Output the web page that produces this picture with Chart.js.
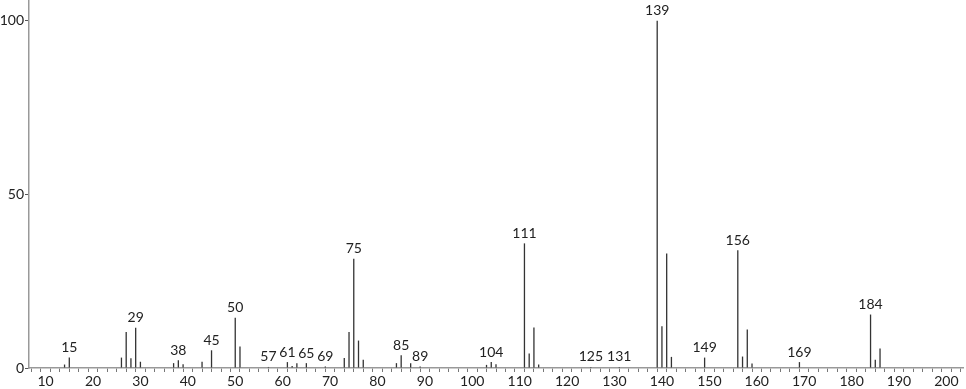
<!DOCTYPE html>
<html>
<head>
<meta charset="utf-8">
<script src="https://cdn.jsdelivr.net/npm/chart.js@4"></script>
<style>
  html, body { margin: 0; padding: 0; background: #fff; }
  #wrap { width: 966px; height: 389px; }
</style>
</head>
<body>
<div id="wrap"><canvas id="msChart"></canvas></div>
<script>
// mass spectrum - m/z and relative intensity
const mzValues = [14, 15, 26, 27, 28, 29, 30, 37, 38, 39, 43, 45, 50, 51, 57, 61, 62, 63, 65, 69,
    73, 74, 75, 76, 77, 84, 85, 87, 89, 103, 104, 105, 111, 112, 113, 114, 125, 131,
    139, 140, 141, 142, 149, 156, 157, 158, 159, 169, 184, 185, 186];
const intensities = [1, 3, 3, 10.4, 2.8, 11.6, 1.8, 1.4, 2.2, 1.1, 1.8, 5.1, 14.5, 6.2, 0.3, 1.7, 0.6, 1.4, 1.4, 0.4,
    2.9, 10.4, 31.5, 7.9, 2.4, 1.4, 3.7, 1.4, 0.4, 0.9, 1.7, 1.1, 35.9, 4.2, 11.7, 1, 0.3, 0.3,
    100, 12, 33, 3.2, 3, 33.9, 3.3, 11.1, 1.3, 1.7, 15.4, 2.4, 5.6];
const labeledMz = [15, 29, 38, 45, 50, 57, 61, 65, 69, 75, 85, 89, 104, 111, 125, 131, 139, 149, 156, 169, 184];
const yTicks = [0, 50, 100];

const FONT = 'Lato, "Open Sans", sans-serif';

// draw the m/z numbers above the labelled peaks
const peakLabels = {
    id: 'peakLabels',
    afterDatasetsDraw(chart) {
        const ctx = chart.ctx;
        const xs = chart.scales.x;
        const ys = chart.scales.y;
        ctx.save();
        ctx.font = '14px ' + FONT;
        ctx.fillStyle = '#222';
        ctx.textAlign = 'center';
        ctx.textBaseline = 'bottom';
        labeledMz.forEach(m => {
            const i = mzValues.indexOf(m);
            const v = i >= 0 ? intensities[i] : 0;
            ctx.fillText(String(m), xs.getPixelForValue(m), ys.getPixelForValue(v) - 3);
        });
        ctx.restore();
    }
};

new Chart(document.getElementById('msChart'), {
    type: 'bar',
    data: {
        datasets: [{
            data: mzValues.map((m, i) => ({ x: m, y: intensities[i] })),
            backgroundColor: '#333',
            borderWidth: 0,
            inflateAmount: 0,
            barThickness: 1.3
        }]
    },
    options: {
        responsive: true,
        maintainAspectRatio: false,
        animation: false,
        layout: { padding: { top: 0, right: 3, bottom: 0, left: 0 } },
        plugins: {
            legend: { display: false },
            tooltip: { enabled: false }
        },
        scales: {
            x: {
                type: 'linear',
                offset: false,
                min: 6.5,
                max: 203.5,
                afterBuildTicks: s => {
                    const t = [];
                    for (let v = 8; v <= 202; v += 2) t.push({ value: v });
                    s.ticks = t;
                },
                afterFit: s => { s.height = 21; s.paddingLeft = 0; s.paddingRight = 0; },
                ticks: {
                    autoSkip: false,
                    maxRotation: 0,
                    padding: 1,
                    color: '#222',
                    font: { family: FONT, size: 14 },
                    callback: v => (v % 10 === 0 ? String(v) : '')
                },
                grid: { drawOnChartArea: false, drawTicks: true, tickLength: 4, color: '#777' },
                border: { display: true, color: '#999', width: 1.5 }
            },
            y: {
                min: 0,
                max: 106,
                afterBuildTicks: s => { s.ticks = yTicks.map(v => ({ value: v })); },
                afterFit: s => { s.width = 29; s.paddingTop = 0; s.paddingBottom = 0; },
                ticks: {
                    padding: 1,
                    color: '#222',
                    font: { family: FONT, size: 14 }
                },
                grid: { drawOnChartArea: false, drawTicks: true, tickLength: 4, color: '#555' },
                border: { display: true, color: '#999', width: 1.5 }
            }
        }
    },
    plugins: [peakLabels]
});
</script>
</body>
</html>
